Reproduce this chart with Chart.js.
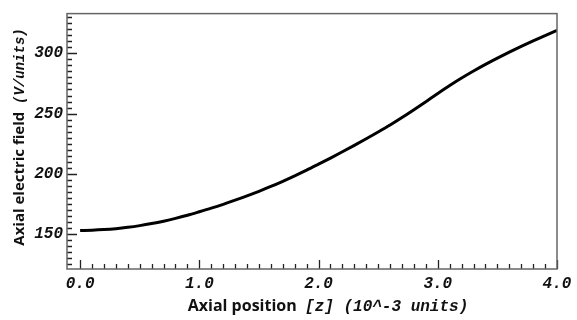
<!DOCTYPE html>
<html>
<head>
<meta charset="utf-8">
<script src="https://cdn.jsdelivr.net/npm/chart.js@4.4.1/dist/chart.umd.min.js"></script>
<style>
html,body{margin:0;padding:0;background:#fff;}
#wrap{width:577px;height:320px;position:relative;}
</style>
</head>
<body>
<div id="wrap"><canvas id="c" width="577" height="320"></canvas></div>
<script>
// Axial position (10^-3 units)
const positions = [0.0,0.1,0.2,0.3,0.4,0.5,0.6,0.7,0.8,0.9,1.0,1.1,1.2,1.3,1.4,1.5,1.6,1.7,1.8,1.9,2.0,
                   2.1,2.2,2.3,2.4,2.5,2.6,2.7,2.8,2.9,3.0,3.1,3.2,3.3,3.4,3.5,3.6,3.7,3.8,3.9,4.0];
// Axial electric field (V/units)
const fieldValues = [153.0,153.2,153.7,154.5,155.6,157.0,158.7,160.7,163.0,165.6,168.5,171.5,174.7,178.1,181.7,185.5,189.5,193.8,198.3,203.0,208.0,
                     213.1,218.3,223.6,229.1,234.7,240.5,246.7,253.2,259.9,266.7,273.3,279.5,285.3,290.8,296.0,301.0,305.8,310.4,314.8,319.0];
const xTickValues = [0, 1, 2, 3, 4];
const yTickValues = [150, 200, 250, 300];
const xRange = [-0.11, 4.0];
const yRange = [121, 333];

const monoFont = '"Liberation Mono", "DejaVu Sans Mono", monospace';
const sansFont = '"Open Sans", "DejaVu Sans", sans-serif';

const innerTicks = {
  id: 'innerTicks',
  afterDraw(chart) {
    const ctx = chart.ctx, a = chart.chartArea;
    const xs = chart.scales.x, ys = chart.scales.y;
    ctx.save();
    ctx.strokeStyle = '#222';
    ctx.lineWidth = 1.3;
    ctx.beginPath();
    for (let i = 0; i <= 40; i++) {
      const v = i / 10;
      const px = Math.round(xs.getPixelForValue(v)) + 0.5;
      const len = (i % 10 === 0) ? 9 : 5;
      ctx.moveTo(px, a.bottom);
      ctx.lineTo(px, a.bottom - len);
    }
    for (let v = 125; v <= 330; v += 5) {
      const py = Math.round(ys.getPixelForValue(v)) + 0.5;
      const len = (v % 50 === 0) ? 10 : 5;
      ctx.moveTo(a.left, py);
      ctx.lineTo(a.left + len, py);
    }
    ctx.stroke();
    ctx.strokeStyle = '#666';
    ctx.lineWidth = 1.5;
    ctx.strokeRect(a.left, a.top, a.right - a.left, a.bottom - a.top);
    ctx.restore();

    ctx.save();
    ctx.fillStyle = '#111';
    ctx.textBaseline = 'middle';
    const xt1 = 'Axial position  ';
    const xt2 = '[z] (10^-3 units)';
    ctx.font = 'bold 16px ' + sansFont;
    const w1 = ctx.measureText(xt1).width;
    ctx.font = 'italic bold 16px ' + monoFont;
    const w2 = ctx.measureText(xt2).width;
    const cx = 328;
    let sx = cx - (w1 + w2) / 2;
    ctx.textAlign = 'left';
    ctx.font = 'bold 16px ' + sansFont;
    ctx.fillText(xt1, sx, 306);
    ctx.font = 'italic bold 16px ' + monoFont;
    ctx.fillText(xt2, sx + w1, 307);
    const yt1 = 'Axial electric field  ';
    const yt2 = '(V/units)';
    ctx.translate(20, 137);
    ctx.rotate(-Math.PI / 2);
    ctx.font = 'bold 15px ' + sansFont;
    const v1 = ctx.measureText(yt1).width;
    ctx.font = 'italic bold 14px ' + monoFont;
    const v2 = ctx.measureText(yt2).width;
    let sy = -(v1 + v2) / 2;
    ctx.font = 'bold 15px ' + sansFont;
    ctx.fillText(yt1, sy, 0);
    ctx.font = 'italic bold 14px ' + monoFont;
    ctx.fillText(yt2, sy + v1, 0);
    ctx.restore();
  }
};

new Chart(document.getElementById('c'), {
  type: 'line',
  data: {
    datasets: [{
      data: positions.map((x, i) => ({ x: x, y: fieldValues[i] })),
      borderColor: '#000',
      borderWidth: 3,
      pointRadius: 0,
      fill: false,
      cubicInterpolationMode: 'monotone'
    }]
  },
  options: {
    responsive: false,
    animation: false,
    devicePixelRatio: 1,
    layout: { padding: { top: 13, right: 20, left: 0, bottom: 0 } },
    plugins: { legend: { display: false }, tooltip: { enabled: false } },
    scales: {
      x: {
        type: 'linear',
        min: xRange[0], max: xRange[1],
        afterBuildTicks: s => { s.ticks = xTickValues.map(v => ({ value: v })); },
        afterFit: s => { s.height = 51; },
        grid: { display: false, drawTicks: false },
        border: { display: false },
        ticks: {
          callback: v => Number(v).toFixed(1),
          color: '#111',
          font: { family: monoFont, size: 16, weight: 'bold', style: 'italic' },
          padding: 5,
          maxRotation: 0,
          autoSkip: false
        }
      },
      y: {
        type: 'linear',
        min: yRange[0], max: yRange[1],
        afterBuildTicks: s => { s.ticks = yTickValues.map(v => ({ value: v })); },
        afterFit: s => { s.width = 67; },
        grid: { display: false, drawTicks: false },
        border: { display: false },
        ticks: {
          color: '#111',
          font: { family: monoFont, size: 16, weight: 'bold', style: 'italic' },
          padding: 4
        }
      }
    }
  },
  plugins: [innerTicks]
});
</script>
</body>
</html>
